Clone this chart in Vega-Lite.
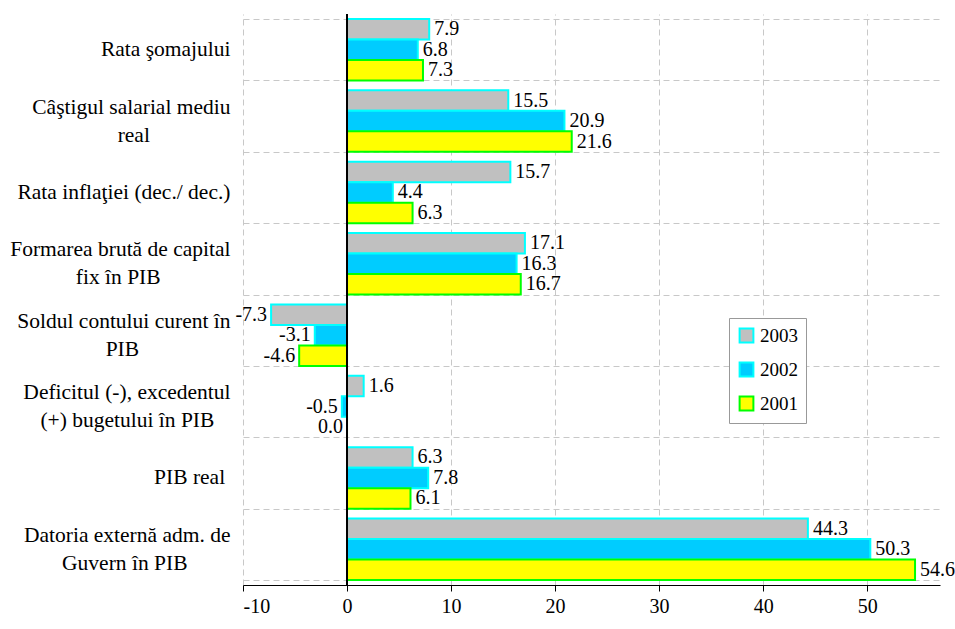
{
  "$schema": "https://vega.github.io/schema/vega-lite/v6.json",
  "width": 697,
  "height": 571,
  "autosize": {"type": "none"},
  "padding": {"left": 243, "top": 14, "right": 15, "bottom": 44},
  "background": "white",
  "config": {
    "font": "Liberation Serif",
    "view": {"stroke": null}
  },
  "data": {
    "values": [
      {"cat": "Rata şomajului", "year": "2003", "v": 7.9},
      {"cat": "Rata şomajului", "year": "2002", "v": 6.8},
      {"cat": "Rata şomajului", "year": "2001", "v": 7.3},
      {"cat": "Câştigul salarial mediu|real", "year": "2003", "v": 15.5},
      {"cat": "Câştigul salarial mediu|real", "year": "2002", "v": 20.9},
      {"cat": "Câştigul salarial mediu|real", "year": "2001", "v": 21.6},
      {"cat": "Rata inflaţiei (dec./ dec.)", "year": "2003", "v": 15.7},
      {"cat": "Rata inflaţiei (dec./ dec.)", "year": "2002", "v": 4.4},
      {"cat": "Rata inflaţiei (dec./ dec.)", "year": "2001", "v": 6.3},
      {"cat": "Formarea brută de capital|fix în PIB", "year": "2003", "v": 17.1},
      {"cat": "Formarea brută de capital|fix în PIB", "year": "2002", "v": 16.3},
      {"cat": "Formarea brută de capital|fix în PIB", "year": "2001", "v": 16.7},
      {"cat": "Soldul contului curent în|PIB", "year": "2003", "v": -7.3},
      {"cat": "Soldul contului curent în|PIB", "year": "2002", "v": -3.1},
      {"cat": "Soldul contului curent în|PIB", "year": "2001", "v": -4.6},
      {"cat": "Deficitul (-), excedentul|(+) bugetului în PIB", "year": "2003", "v": 1.6},
      {"cat": "Deficitul (-), excedentul|(+) bugetului în PIB", "year": "2002", "v": -0.5},
      {"cat": "Deficitul (-), excedentul|(+) bugetului în PIB", "year": "2001", "v": 0.0},
      {"cat": "PIB real", "year": "2003", "v": 6.3},
      {"cat": "PIB real", "year": "2002", "v": 7.8},
      {"cat": "PIB real", "year": "2001", "v": 6.1},
      {"cat": "Datoria externă adm. de|Guvern în PIB", "year": "2003", "v": 44.3},
      {"cat": "Datoria externă adm. de|Guvern în PIB", "year": "2002", "v": 50.3},
      {"cat": "Datoria externă adm. de|Guvern în PIB", "year": "2001", "v": 54.6}
    ]
  },
  "layer": [
    {
      "mark": {"type": "bar", "strokeWidth": 2},
      "encoding": {
        "y": {
          "field": "cat", "type": "nominal", "sort": null,
          "scale": {"paddingInner": 0.14, "paddingOuter": 0.07},
          "axis": {
            "title": null,
            "labelExpr": "indexof(datum.label,'|') >= 0 ? [split(datum.label,'|')[0], '\u200b', pad(split(datum.label,'|')[1], length(split(datum.label,'|')[1]) + (split(datum.label,'|')[1] == 'real' ? 15 : split(datum.label,'|')[1] == 'fix în PIB' ? 13 : split(datum.label,'|')[1] == 'PIB' ? 17 : split(datum.label,'|')[1] == 'Guvern în PIB' ? 8 : 3), '\u00a0') + '\u200b'] : ['\u200b', datum.label == 'PIB real' ? 'PIB real\u00a0\u200b' : datum.label]",
            "labelAlign": "right", "labelBaseline": "middle", "labelPadding": 13,
            "labelOffset": -14,
            "ticks": false, "domain": false, "grid": true, "tickBand": "extent",
            "gridDash": [6, 4], "gridColor": "#c8c8c8", "gridWidth": 1,
            "labelFont": "Liberation Serif",
            "labelFontSize": 21.5, "labelLineHeight": 14, "labelColor": "black", "labelLimit": 300
          }
        },
        "yOffset": {"field": "year", "type": "nominal", "sort": ["2003", "2002", "2001"]},
        "x": {
          "field": "v", "type": "quantitative",
          "scale": {"domain": [-10, 57], "nice": false, "zero": false},
          "axis": {
            "title": null, "values": [-10, 0, 10, 20, 30, 40, 50],
            "labelExpr": "replace(datum.label, '\u2212', '-')",
            "grid": true, "gridDash": [6, 4], "gridColor": "#c8c8c8",
            "domainColor": "black", "tickColor": "black", "tickSize": 6,
            "labelFont": "Liberation Serif",
            "labelFontSize": 20, "labelColor": "black", "labelPadding": 5
          }
        },
        "fill": {
          "field": "year", "type": "nominal",
          "scale": {"domain": ["2003", "2002", "2001"], "range": ["#c0c0c0", "#00ccff", "#ffff00"]},
          "legend": {
            "title": null, "orient": "none", "legendX": 486, "legendY": 304,
            "strokeColor": "#999", "fillColor": "white", "padding": 8,
            "symbolType": "square", "symbolSize": 190, "symbolStrokeWidth": 2,
            "labelFont": "Liberation Serif",
            "labelFontSize": 19, "labelColor": "black", "rowPadding": 11
          }
        },
        "stroke": {
          "field": "year", "type": "nominal",
          "scale": {"domain": ["2003", "2002", "2001"], "range": ["#00ffff", "#00ffff", "#00ff00"]},
          "legend": {
            "title": null, "orient": "none", "legendX": 486, "legendY": 304,
            "strokeColor": "#999", "fillColor": "white", "padding": 8,
            "symbolType": "square", "symbolSize": 190, "symbolStrokeWidth": 2,
            "labelFont": "Liberation Serif",
            "labelFontSize": 19, "labelColor": "black", "rowPadding": 11
          }
        }
      }
    },
    {
      "transform": [
        {"filter": "datum.v > 0"},
        {"calculate": "format(datum.v, '.1f')", "as": "lbl"}
      ],
      "mark": {"type": "text", "align": "left", "baseline": "middle", "dx": 5, "fontSize": 20, "font": "Liberation Serif", "color": "black"},
      "encoding": {
        "y": {"field": "cat", "type": "nominal", "sort": null},
        "yOffset": {"field": "year", "type": "nominal", "sort": ["2003", "2002", "2001"]},
        "x": {"field": "v", "type": "quantitative"},
        "text": {"field": "lbl", "type": "nominal"}
      }
    },
    {
      "transform": [
        {"filter": "datum.v <= 0"},
        {"calculate": "replace(format(datum.v, '.1f'), '\u2212', '-')", "as": "lbl"}
      ],
      "mark": {"type": "text", "align": "right", "baseline": "middle", "dx": -4, "fontSize": 20, "font": "Liberation Serif", "color": "black"},
      "encoding": {
        "y": {"field": "cat", "type": "nominal", "sort": null},
        "yOffset": {"field": "year", "type": "nominal", "sort": ["2003", "2002", "2001"]},
        "x": {"field": "v", "type": "quantitative"},
        "text": {"field": "lbl", "type": "nominal"}
      }
    },
    {
      "mark": {"type": "rule", "color": "black", "strokeWidth": 1.5},
      "encoding": {"x": {"datum": 0, "type": "quantitative"}}
    }
  ]
}
